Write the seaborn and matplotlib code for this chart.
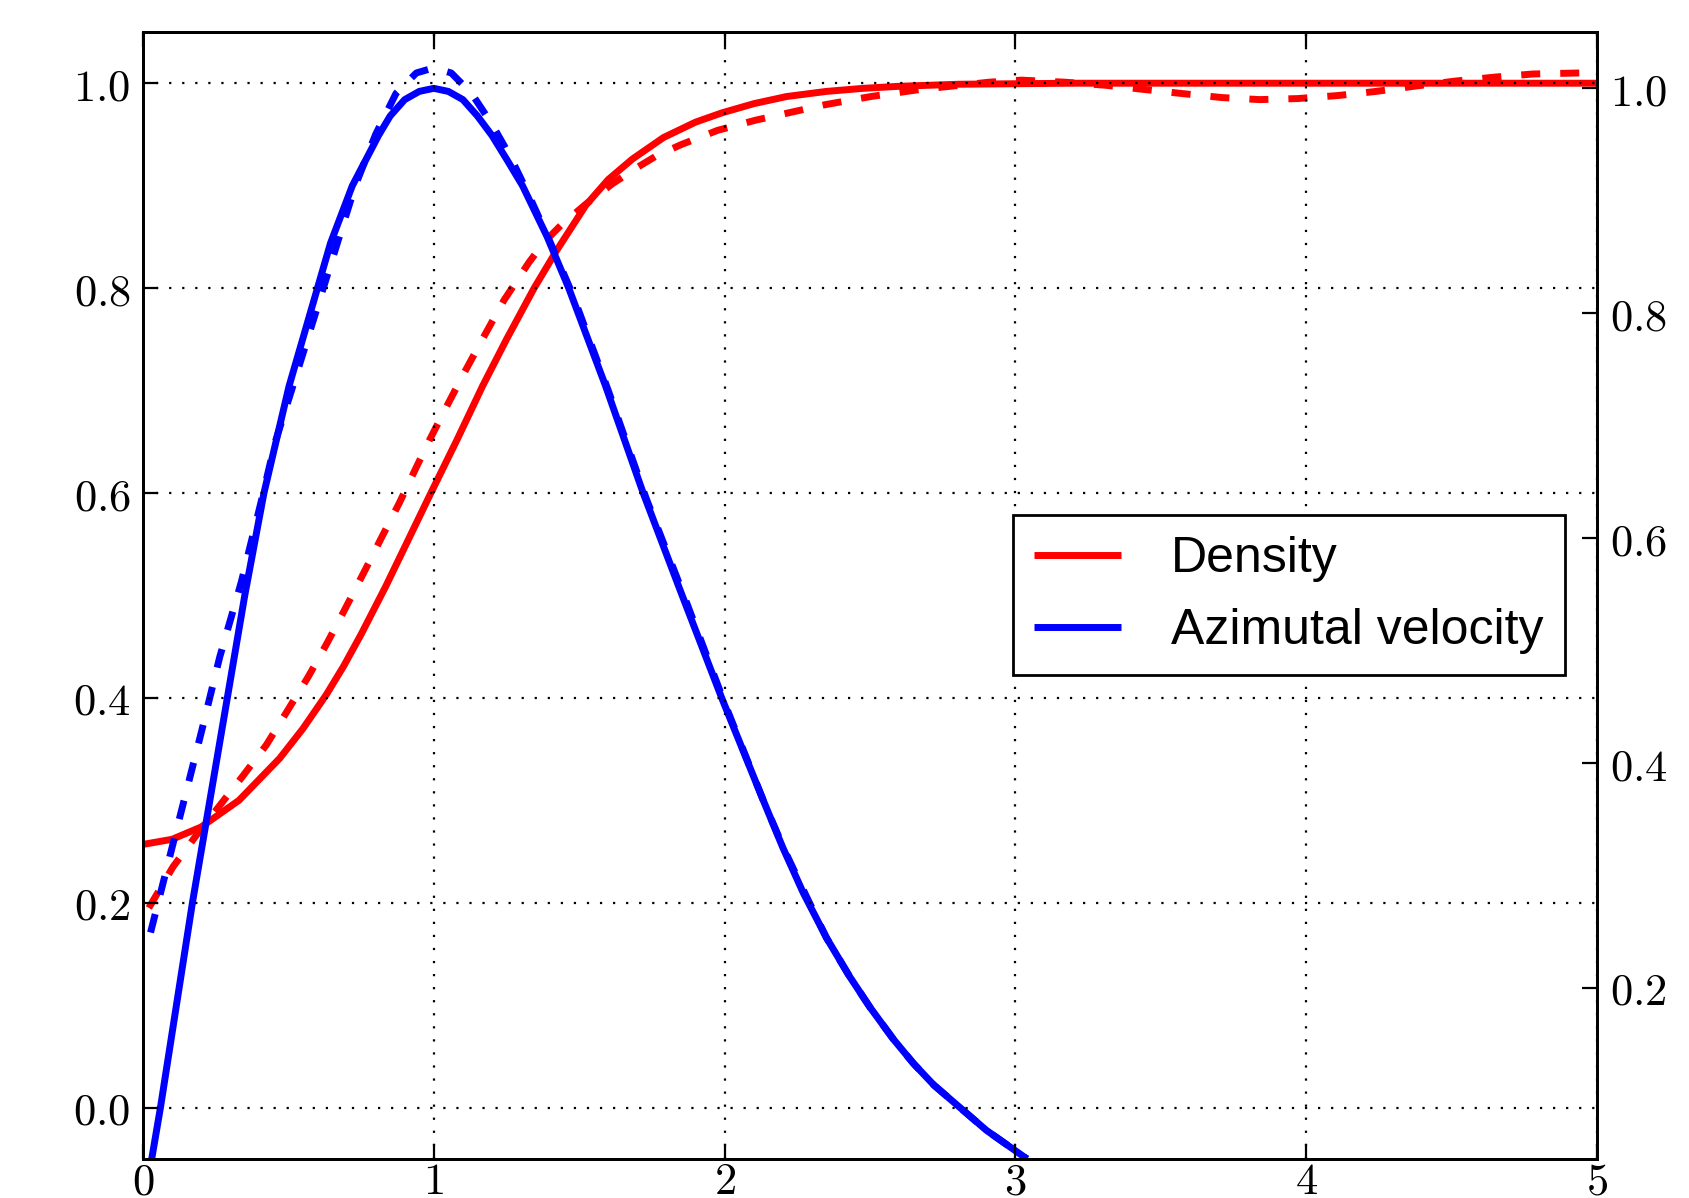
import numpy as np
import pandas as pd
import seaborn as sns
import matplotlib
matplotlib.use("Agg")
import matplotlib.pyplot as plt
from matplotlib.ticker import FuncFormatter

# ---------------- data ----------------
dens_x = [0.0, 0.1, 0.2, 0.33, 0.47, 0.55, 0.63, 0.69, 0.75, 0.835, 0.99,
          1.08, 1.167, 1.25, 1.345, 1.423, 1.523, 1.6, 1.683, 1.79, 1.9, 1.99, 2.1,
          2.213, 2.35, 2.477, 2.6, 2.806, 3.2, 4.0, 5.0]
dens_y = [0.257, 0.262, 0.274, 0.300, 0.341, 0.370, 0.403, 0.431, 0.462, 0.509, 0.6,
          0.652, 0.704, 0.75, 0.8, 0.837, 0.881, 0.906, 0.926, 0.947, 0.962, 0.971, 0.98,
          0.987, 0.992, 0.995, 0.997, 0.999, 1.0, 1.0, 1.0]

dens_ref_x = [0.02, 0.103, 0.181, 0.264, 0.344, 0.424, 0.5, 0.569, 0.634, 0.697,
              0.766, 0.823, 0.881, 0.938, 0.984, 1.047, 1.104, 1.167, 1.241, 1.327,
              1.38, 1.436, 1.523, 1.615, 1.695, 1.765, 1.85, 1.976, 2.108, 2.345,
              2.503, 2.675, 2.91, 3.02, 3.17, 3.31, 3.44, 3.57, 3.71, 3.84, 3.97,
              4.11, 4.24, 4.37, 4.51, 4.65, 4.78, 4.94]
dens_ref_y = [0.195, 0.235, 0.265, 0.295, 0.324, 0.354, 0.389, 0.421, 0.454, 0.488,
              0.526, 0.558, 0.59, 0.624, 0.651, 0.686, 0.717, 0.75, 0.788, 0.825,
              0.845, 0.861, 0.882, 0.902, 0.917, 0.929, 0.940, 0.954, 0.964, 0.979,
              0.987, 0.994, 1.001, 1.003, 1.001, 0.998, 0.994, 0.99, 0.986, 0.984,
              0.985, 0.988, 0.992, 0.997, 1.002, 1.006, 1.009, 1.01]

vel_x = [0.03, 0.06, 0.17, 0.29, 0.35, 0.416, 0.502, 0.6, 0.645, 0.72, 0.81, 0.85,
         0.90, 0.95, 1.0, 1.05, 1.10, 1.15, 1.20, 1.25, 1.305, 1.39, 1.464, 1.59,
         1.72, 1.85, 1.99, 2.13, 2.2, 2.27, 2.35, 2.43, 2.5, 2.58, 2.65, 2.72, 2.81,
         2.9, 3.04]
vel_y = [-0.05, 0.0, 0.2, 0.4, 0.5, 0.6, 0.704, 0.8, 0.844, 0.9, 0.949, 0.968,
         0.984, 0.992, 0.995, 0.992, 0.984, 0.968, 0.949, 0.926, 0.9, 0.85, 0.8, 0.705,
         0.6, 0.503, 0.4, 0.302, 0.254, 0.21, 0.166, 0.128, 0.098, 0.067, 0.043, 0.022,
         0.0, -0.022, -0.05]

vel_ref_x = [0.026, 0.067, 0.135, 0.202, 0.264, 0.338, 0.405, 0.455, 0.515, 0.62,
             0.73, 0.80, 0.87, 0.94, 1.0, 1.06, 1.13, 1.20, 1.26, 1.32, 1.40,
             1.48, 1.60, 1.73, 1.86, 2.0, 2.14, 2.21, 2.28, 2.35, 2.43, 2.5, 2.58,
             2.65, 2.72, 2.81, 2.9, 3.04]
vel_ref_y = [0.171, 0.217, 0.293, 0.368, 0.44, 0.513, 0.59, 0.65, 0.704, 0.8,
             0.9, 0.95, 0.99, 1.01, 1.015, 1.01, 0.99, 0.96, 0.93, 0.895, 0.845,
             0.792, 0.70, 0.595, 0.5, 0.395, 0.295, 0.249, 0.207, 0.166, 0.128, 0.098,
             0.067, 0.043, 0.022, 0.0, -0.022, -0.05]

legend_labels = ["Density", "Azimutal velocity"]
x_ticks = [0, 1, 2, 3, 4, 5]
left_ticks = [0.0, 0.2, 0.4, 0.6, 0.8, 1.0]
right_ticks = [0.2, 0.4, 0.6, 0.8, 1.0]

# ---------------- style ----------------
sns.set_style("ticks")
plt.rcParams["mathtext.fontset"] = "cm"
plt.rcParams["font.family"] = ["DejaVu Sans"]
plt.rcParams["text.color"] = "black"
plt.rcParams["lines.scale_dashes"] = False
plt.rcParams["axes.linewidth"] = 2.0

fig = plt.figure(figsize=(16.9, 11.98), dpi=100)
ax = fig.add_axes([0.0846, 0.0326, 0.945 - 0.0846, 0.9733 - 0.0326])

LW = 5.0
DASH = (0, (13.7, 14.4))

common = dict(ax=ax, lw=LW, estimator=None, sort=False,
              solid_joinstyle="round", solid_capstyle="butt")
sns.lineplot(x=dens_x, y=dens_y, color="#ff0000", label=legend_labels[0], **common)
sns.lineplot(x=dens_ref_x, y=dens_ref_y, color="#ff0000", linestyle=DASH,
             label="_nolegend_", **common)
sns.lineplot(x=vel_x, y=vel_y, color="#0000ff", label=legend_labels[1], **common)
sns.lineplot(x=vel_ref_x, y=vel_ref_y, color="#0000ff", linestyle=DASH,
             label="_nolegend_", **common)

ax.set_xlim(0, 5)
ax.set_ylim(-0.05, 1.05)
ax.set_xticks(x_ticks)
ax.set_yticks(left_ticks)
ax.xaxis.set_major_formatter(FuncFormatter(lambda v, p: r"$%d$" % round(v)))
ax.yaxis.set_major_formatter(FuncFormatter(lambda v, p: r"$%.1f$" % v))
ax.tick_params(axis="both", direction="in", length=11, width=1.6, labelsize=32,
               colors="black")
ax.tick_params(axis="x", top=True, bottom=True, pad=1)
ax.tick_params(axis="y", left=True, right=False, pad=9)
ax.set_xlabel("")
ax.set_ylabel("")
for s in ax.spines.values():
    s.set_linewidth(2.0)
    s.set_color("black")

ax.set_axisbelow(False)
ax.grid(True, color="black", linestyle=(0, (1.6, 7.8)), linewidth=1.6)

leg = ax.legend(loc="upper left", bbox_to_anchor=(0.598, 0.5713), borderaxespad=0,
                frameon=True, fancybox=False, framealpha=1, edgecolor="black",
                prop={"family": "Liberation Sans", "size": 36},
                handlelength=1.75, handletextpad=1.0, borderpad=0.42,
                labelspacing=0.52)
leg.get_frame().set_linewidth(2.0)
for t in leg.get_texts():
    t.set_color("black")
for h in leg.get_lines():
    h.set_linewidth(LW)

ax2 = ax.twinx()
ax2.set_ylim(0.048, 1.05)
ax2.set_yticks(right_ticks)
ax2.yaxis.set_major_formatter(FuncFormatter(lambda v, p: r"$%.1f$" % v))
ax2.tick_params(axis="y", direction="in", length=11, width=1.6, labelsize=32, pad=9,
                colors="black")
ax2.grid(False)
for s in ax2.spines.values():
    s.set_linewidth(2.0)
    s.set_color("black")

fig.savefig("out.png", dpi=100)
